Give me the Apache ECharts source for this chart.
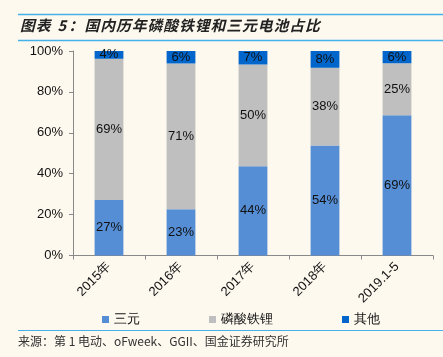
<!DOCTYPE html>
<html><head><meta charset="utf-8">
<script src="https://cdn.jsdelivr.net/npm/echarts@6/dist/echarts.min.js"></script>
<style>html,body{margin:0;padding:0;background:#fdf9ef;}#c{width:443px;height:357px;}</style>
</head><body><div id="c"></div>
<script>
const categories = ['2015年','2016年','2017年','2018年','2019.1-5'];
const ternary = [27.1, 22.6, 43.7, 53.8, 68.6];
const lfp = [69.1, 71.3, 49.7, 38.0, 25.4];
const others = [3.8, 6.1, 6.6, 8.2, 6.0];
const yTicks = [0, 20, 40, 60, 80, 100];
const titleText = '图表 5：国内历年磷酸铁锂和三元电池占比';
const sourceText = '来源：第 1 电动、oFweek、GGII、国金证券研究所';

const chart = echarts.init(document.getElementById('c'));
const font = 'Liberation Sans, Arial, sans-serif';
const lab = {show:true, position:'inside', color:'#111', fontSize:13, fontFamily:font,
  formatter: p => Math.round(p.value) + '%'};
function ser(name, data, color){
  return {name, type:'bar', stack:'s', data, barWidth:'40%', itemStyle:{color}, label:lab};
}
// title drawn character by character to reproduce its letter spacing
const titleEls = [];
let tx = 20;
for (const ch of titleText) {
  if (ch === ' ') { tx += 6; continue; }
  titleEls.push({type:'text', x:tx, y:18, style:{text:ch, fontSize:14.8, fontWeight:'bold',
    fontStyle:'italic', fill:'#222', fontFamily:'Noto Sans CJK SC'}});
  if (ch === '5') tx += 11;
  else if (ch === '：') tx += 16;
  else tx += 15.75;
}
chart.setOption({
  backgroundColor:'#fdf9ef',
  animation:false,
  grid:{left:73, right:10, top:51, bottom:101.5},
  legend:{left:97, top:308, itemWidth:7, itemHeight:7, itemGap:69, icon:'rect',
    textStyle:{fontSize:13, color:'#111', fontFamily:font},
    data:['三元','磷酸铁锂','其他']},
  xAxis:{type:'category', data:categories,
    axisLine:{lineStyle:{color:'#898989'}},
    axisTick:{show:true, length:4, lineStyle:{color:'#898989'}},
    axisLabel:{rotate:45, fontSize:13, color:'#111', fontFamily:font, margin:9, interval:0}},
  yAxis:{type:'value', min:0, max:100, interval:20,
    axisLine:{show:true, lineStyle:{color:'#898989'}},
    axisTick:{show:true, length:4, lineStyle:{color:'#898989'}},
    splitLine:{show:false},
    axisLabel:{fontSize:13, color:'#111', fontFamily:font, margin:10,
      formatter: v => yTicks.includes(v) ? v + '%' : ''}},
  series:[ser('三元', ternary, '#558ed5'), ser('磷酸铁锂', lfp, '#bfbfbf'), ser('其他', others, '#0066cc')],
  graphic:[
    {type:'line', shape:{x1:18,y1:14.5,x2:443,y2:14.5}, style:{stroke:'#45b1e8', lineWidth:1.5}},
    {type:'line', shape:{x1:18,y1:40.5,x2:443,y2:40.5}, style:{stroke:'#45b1e8', lineWidth:1.5}},
    ...titleEls,
    {type:'line', shape:{x1:18,y1:330.5,x2:443,y2:330.5}, style:{stroke:'#45b1e8', lineWidth:1}},
    {type:'text', left:18, top:335, style:{text:sourceText, fontSize:12,
      fill:'#333', fontFamily:'Noto Sans CJK SC'}}
  ]
});
</script></body></html>
